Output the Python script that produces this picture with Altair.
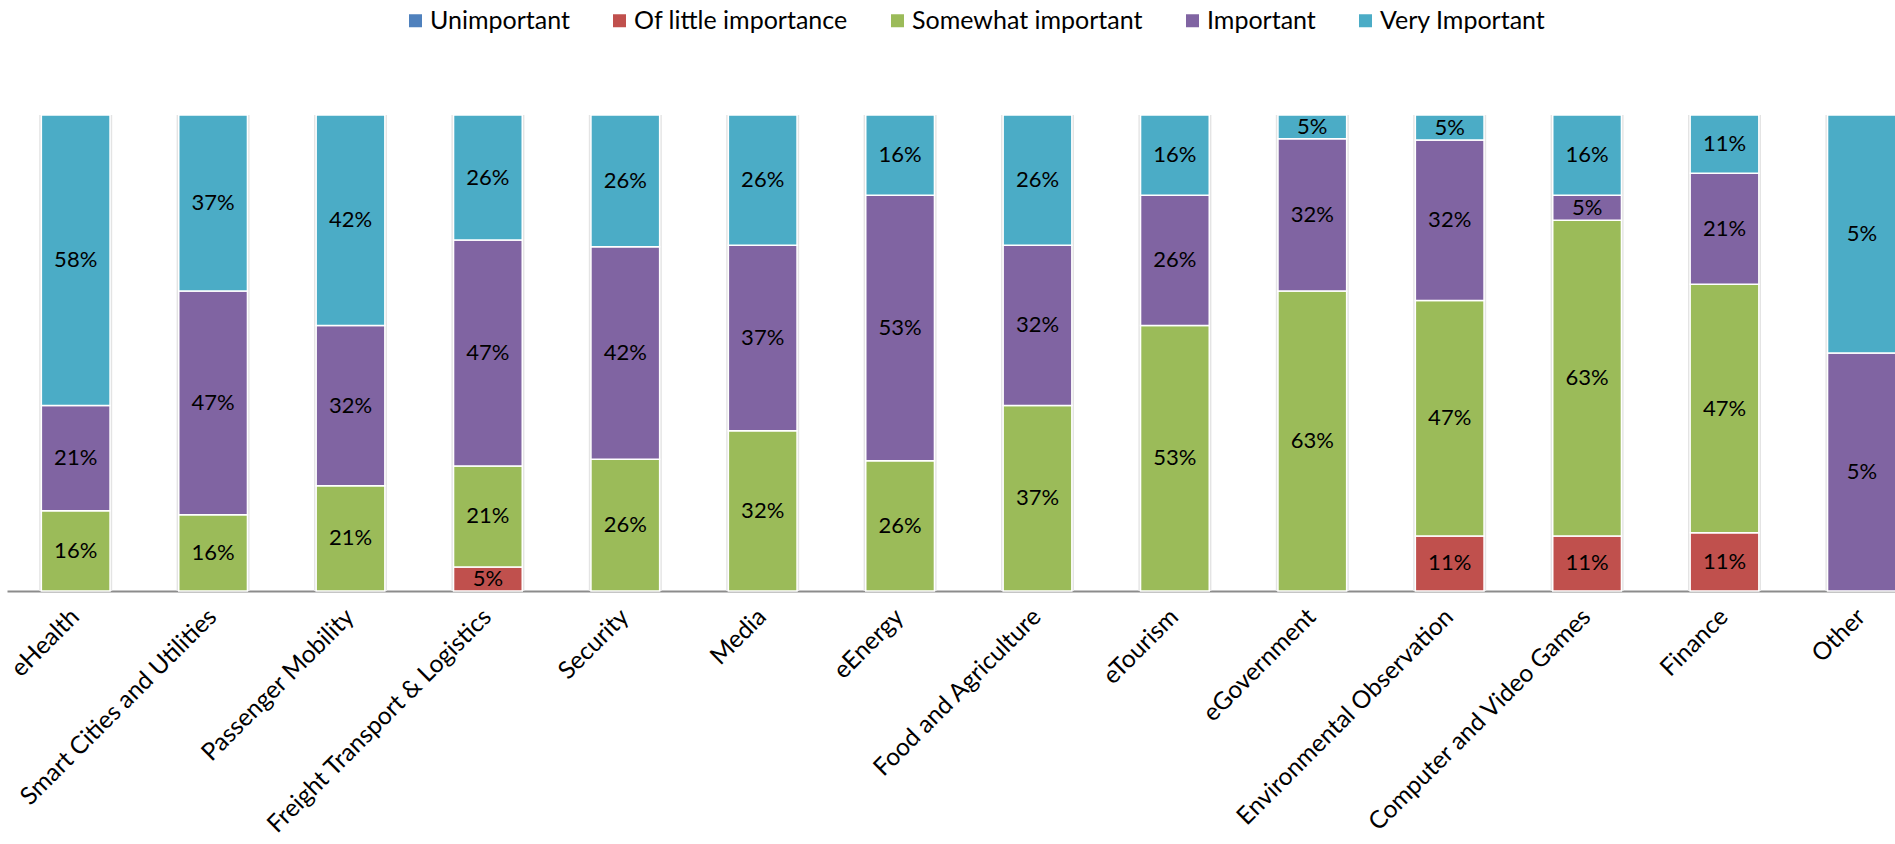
import altair as alt
import pandas as pd

categories = ["eHealth", "Smart Cities and Utilities", "Passenger Mobility",
              "Freight Transport & Logistics", "Security", "Media", "eEnergy",
              "Food and Agriculture", "eTourism", "eGovernment",
              "Environmental Observation", "Computer and Video Games", "Finance", "Other"]
levels = ["Unimportant", "Of little importance", "Somewhat important", "Important", "Very Important"]
colors = ["#4F81BD", "#C0504D", "#9BBB59", "#8064A2", "#4BACC6"]

unimportant = [0, 0, 0, 0, 0, 0, 0, 0, 0, 0, 0, 0, 0, 0]
of_little = [0, 0, 0, 5, 0, 0, 0, 0, 0, 0, 11, 11, 11, 0]
somewhat = [16, 16, 21, 21, 26, 32, 26, 37, 53, 63, 47, 63, 47, 0]
important = [21, 47, 32, 47, 42, 37, 53, 32, 26, 32, 32, 5, 21, 5]
very = [58, 37, 42, 26, 26, 26, 16, 26, 16, 5, 5, 16, 11, 5]

series = [unimportant, of_little, somewhat, important, very]
rows = []
for li, (lev, vals) in enumerate(zip(levels, series)):
    for ci, cat in enumerate(categories):
        if vals[ci] > 0:
            rows.append({"category": cat, "level": lev, "order": li, "value": vals[ci]})
df = pd.DataFrame(rows)
cat_df = pd.DataFrame({"category": categories, "s0": [0.0] * len(categories),
                       "s1": [1.0] * len(categories)})

FONT = "Lato"

x_scale = alt.Scale(range=[0, 1923.6], paddingInner=0.5, paddingOuter=0.25)
y_scale = alt.Scale(domain=[0, 1])
x_axis = alt.Axis(title=None, labelAngle=-45, labelAlign="right", labelBaseline="middle",
                  labelFont=FONT, labelFontSize=24.5, labelColor="black", labelPadding=22,
                  ticks=False, domainColor="#8c8c8c", domainWidth=2, labelLimit=0)

x = alt.X("category:N", sort=categories, scale=x_scale, axis=x_axis)

base = alt.Chart(df).transform_stack(
    stack="value", groupby=["category"], as_=["v0", "v1"], offset="normalize",
    sort=[alt.SortField("order", order="ascending")]
).transform_calculate(
    mid="(datum.v0 + datum.v1) / 2",
    label="datum.value + '%'"
)

shadow = alt.Chart(cat_df).mark_bar(size=73, color="#e4e4e4").encode(
    x=x,
    y=alt.Y("s0:Q", scale=y_scale, axis=None),
    y2="s1:Q",
)

bars = base.mark_bar(stroke="white", strokeWidth=1.5).encode(
    x=x,
    y=alt.Y("v0:Q", scale=y_scale, axis=None),
    y2="v1:Q",
    color=alt.Color(
        "level:N",
        scale=alt.Scale(domain=levels, range=colors),
        legend=alt.Legend(
            title=None, orient="none", direction="horizontal",
            legendX=396, legendY=-107, padding=0,
            symbolType="square", symbolSize=169, symbolStrokeWidth=0,
            labelFont=FONT, labelFontSize=25, labelColor="black",
            labelOffset=2, columnPadding=37, labelLimit=0,
        ),
    ),
)

texts = base.mark_text(font=FONT, fontSize=22, color="black", baseline="middle").encode(
    x=x,
    y=alt.Y("mid:Q", scale=y_scale, axis=None),
    text="label:N",
)

chart = alt.layer(shadow, bars, texts).properties(
    width=1888, height=476,
    autosize=alt.AutoSizeParams(type="none"),
    padding={"left": 7, "top": 115, "right": 0, "bottom": 252},
).configure_view(stroke=None)

chart.save("out.html", embed_options={"renderer": "svg", "actions": False})
